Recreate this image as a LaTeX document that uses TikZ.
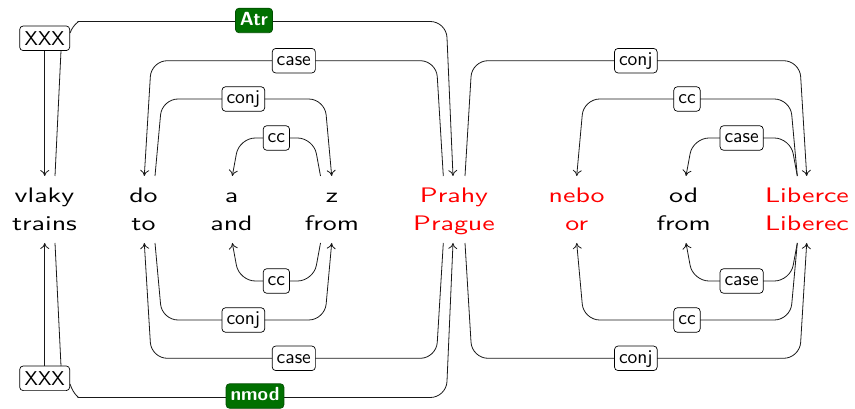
\documentclass[tikz,border=0pt]{standalone}
\usepackage{fontspec}
\setsansfont{lmsans10-regular.otf}[FakeStretch=1.33, BoldFont=lmsans10-bold.otf]
\newfontfamily\xxxfont{lmsans10-regular.otf}
\newfontfamily\labfont{lmsans10-regular.otf}
\newfontfamily\glabfont{lmsans10-bold.otf}
\usetikzlibrary{arrows.meta}
\definecolor{deprel}{RGB}{0,112,0}
\definecolor{hl}{RGB}{255,0,0}
\newcommand\wordpair[2]{\vtop{\baselineskip=28pt\lineskiplimit=-20pt\halign{\hfil##\hfil\cr#1\cr#2\cr}}}
\begin{document}
\begin{tikzpicture}[x=1pt,y=-1pt,
  word/.style={font=\sffamily\fontsize{21}{28}\selectfont, inner sep=0pt, anchor=base},
  lab/.style={draw=black, fill=white, rounded corners=3.5pt, line width=0.7pt,
    font=\labfont\fontsize{19.5}{23}\selectfont, text height=13.5pt, text depth=4pt,
    inner xsep=4.5pt, inner ysep=3.5pt},
  glab/.style={lab, fill=deprel, draw=deprel!70!black, text=white,
    font=\glabfont\fontsize{19}{23}\selectfont},
  xxx/.style={draw=black, fill=white, rounded corners=3.5pt, line width=0.7pt,
    font=\xxxfont\fontsize{20}{24}\selectfont, text height=14pt, text depth=0pt,
    inner xsep=5pt, inner ysep=5.3pt},
  edge/.style={draw=black!90, line width=0.8pt, rounded corners=16pt},
  arr/.style={-{To[length=6pt,width=9pt]}}
]
\useasboundingbox (0,0) rectangle (855,409);

% words
\node[word] (vlaky) at (44.5,203) {\wordpair{vlaky}{trains}};
\node[word] (do) at (143.5,203) {\wordpair{do}{to}};
\node[word] (a) at (231.5,203) {\wordpair{a}{and}};
\node[word] (z) at (332,203) {\wordpair{z}{from}};
\node[word,text=hl] (prahy) at (454,203) {\wordpair{Prahy}{Prague}};
\node[word,text=hl] (nebo) at (576.7,203) {\wordpair{nebo}{or}};
\node[word] (od) at (683.7,203) {\wordpair{od}{from}};
\node[word,text=hl] (liberce) at (807,203) {\wordpair{Liberce}{Liberec}};

% root nodes
\node[xxx] (xxxt) at (44.7,38.3) {XXX};
\node[xxx] (xxxb) at (44.7,378.3) {XXX};

% endpoints (top)
\coordinate (vT1) at (44.7,176); \coordinate (vT2) at (55,176);
\coordinate (xT2) at (61,50.7);
\coordinate (doT1) at (144.3,176); \coordinate (doT2) at (155,176);
\coordinate (aT) at (232.3,176);
\coordinate (zT1) at (320.5,176); \coordinate (zT2) at (331.7,176);
\coordinate (pT1) at (443.3,176); \coordinate (pT2) at (453,176); \coordinate (pT3) at (465,176);
\coordinate (nT) at (576.7,176);
\coordinate (oT) at (686,176);
\coordinate (lT1) at (797.3,176); \coordinate (lT2) at (806.7,176);
% endpoints (bottom)
\coordinate (vB1) at (44.7,243); \coordinate (vB2) at (55,243);
\coordinate (xB2) at (61,366);
\coordinate (doB1) at (144.3,243); \coordinate (doB2) at (155,243);
\coordinate (aB) at (232.3,243);
\coordinate (zB1) at (320.5,243); \coordinate (zB2) at (331.7,243);
\coordinate (pB1) at (443.3,243); \coordinate (pB2) at (453,243); \coordinate (pB3) at (465,243);
\coordinate (nB) at (576.7,243);
\coordinate (oB) at (686,243);
\coordinate (lB1) at (797.3,243); \coordinate (lB2) at (806.7,243);
\coordinate (xT3) at (70,33);
\coordinate (xB3) at (70,384);

% root links
\draw[edge,arr] (xxxt) -- (vT1);
\draw[edge] (vT2) -- (xT2);
\draw[edge,arr] (xxxb) -- (vB1);
\draw[edge] (vB2) -- (xB2);

% top edges
\draw[edge,arr] (xT3) .. controls (74,23) and (80,21.5) .. (94,21.5) -- (446.3,21.5) -- (pT2);
\node[glab] (atr) at (254,20.5) {Atr};
\draw[edge,arr] (pT1) -- (436.3,60.7) -- node[lab] (l1) {case} (151.3,60.7) -- (doT1);
\draw[edge,arr] (doT2) -- (162,99) -- node[lab] (l2) {conj} (324.7,99) -- (zT2);
\draw[edge,arr] (zT1) -- (313.5,138) -- node[lab] (l3) {cc} (239.3,138) -- (aT);
\draw[edge,arr] (pT3) -- (472,60.7) -- node[lab] (l4) {conj} (799.7,60.7) -- (lT2);
\draw[edge,arr] (lT1) -- (790.3,99) -- node[lab] (l5) {cc} (583.7,99) -- (nT);
\draw[edge,arr] (lT1) -- (790.3,138) -- node[lab] (l6) {case} (693,138) -- (oT);

% bottom edges
\draw[edge,arr] (xB3) .. controls (74,396) and (80,397.5) .. (94,397.5) -- (446.3,397.5) -- (pB2);
\node[glab] (nmod) at (255,396) {nmod};
\draw[edge,arr] (pB1) -- (436.3,358.3) -- node[lab] (b1) {case} (151.3,358.3) -- (doB1);
\draw[edge,arr] (doB2) -- (162,320) -- node[lab] (b2) {conj} (324.7,320) -- (zB2);
\draw[edge,arr] (zB1) -- (313.5,281) -- node[lab] (b3) {cc} (239.3,281) -- (aB);
\draw[edge,arr] (pB3) -- (472,358.3) -- node[lab] (b4) {conj} (799.7,358.3) -- (lB2);
\draw[edge,arr] (lB1) -- (790.3,320) -- node[lab] (b5) {cc} (583.7,320) -- (nB);
\draw[edge,arr] (lB1) -- (790.3,281) -- node[lab] (b6) {case} (693,281) -- (oB);
\end{tikzpicture}
\end{document}
